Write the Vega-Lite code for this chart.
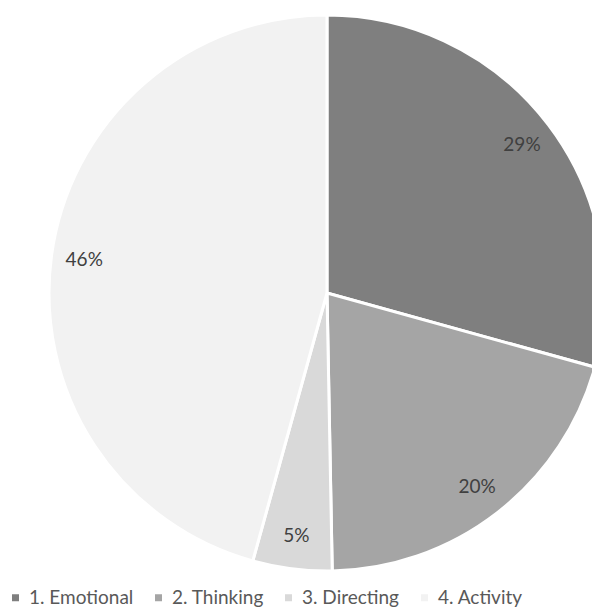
{
  "$schema": "https://vega.github.io/schema/vega-lite/v6.json",
  "width": 654,
  "height": 586,
  "padding": {"top": 0, "left": 0, "right": 0, "bottom": 24},
  "autosize": {"type": "none"},
  "background": "white",
  "data": {
    "values": [
      {"category": "1. Emotional", "share": 0.293},
      {"category": "2. Thinking", "share": 0.204},
      {"category": "3. Directing", "share": 0.046},
      {"category": "4. Activity", "share": 0.457}
    ]
  },
  "encoding": {
    "theta": {"field": "share", "type": "quantitative", "stack": true},
    "order": {"field": "category", "type": "ordinal"},
    "color": {
      "field": "category",
      "type": "nominal",
      "scale": {"domain": ["1. Emotional", "2. Thinking", "3. Directing", "4. Activity"], "range": ["#7f7f7f", "#a5a5a5", "#d9d9d9", "#f2f2f2"]},
      "legend": {
        "title": null,
        "orient": "none",
        "legendX": 6,
        "legendY": 588,
        "direction": "horizontal",
        "columns": 4,
        "symbolType": "square",
        "symbolSize": 49,
        "symbolStrokeWidth": 0,
        "labelFont": "Lato",
        "labelFontSize": 19,
        "labelColor": "#595959",
        "columnPadding": 15,
        "labelOffset": 4,
        "labelLimit": 300
      }
    }
  },
  "layer": [
    {"mark": {"type": "arc", "outerRadius": 278, "stroke": "white", "strokeWidth": 3}},
    {
      "mark": {"type": "text", "radius": 245, "font": "Lato", "fontSize": 19},
      "encoding": {"text": {"field": "share", "type": "quantitative", "format": ".0%"}, "color": {"value": "#404040"}}
    }
  ]
}
